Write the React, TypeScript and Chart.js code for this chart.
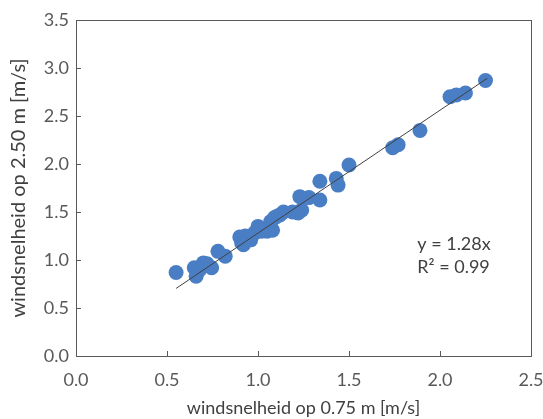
import React, { useEffect, useRef } from "react";
import { Chart, registerables } from "chart.js";

Chart.register(...registerables);

const xValues = [0.55, 0.65, 0.66, 0.68, 0.70, 0.72, 0.745, 0.78, 0.82, 0.90, 0.91, 0.92, 0.93, 0.96, 0.98, 1.00, 1.02, 1.05, 1.07, 1.08, 1.09, 1.10, 1.12, 1.14, 1.19, 1.22, 1.23, 1.24, 1.28, 1.34, 1.34, 1.43, 1.44, 1.50, 1.74, 1.77, 1.89, 2.055, 2.09, 2.14, 2.25];
const yValues = [0.87, 0.92, 0.83, 0.90, 0.97, 0.96, 0.92, 1.09, 1.04, 1.24, 1.18, 1.16, 1.25, 1.21, 1.28, 1.35, 1.30, 1.30, 1.40, 1.31, 1.44, 1.45, 1.47, 1.50, 1.50, 1.49, 1.66, 1.52, 1.65, 1.82, 1.625, 1.85, 1.78, 1.99, 2.17, 2.20, 2.35, 2.70, 2.72, 2.74, 2.87];
const trendX = [0.55, 2.26];
const trendY = [0.704, 2.893];
const xTicks = [0, 0.5, 1.0, 1.5, 2.0, 2.5];
const yTicks = [0, 0.5, 1.0, 1.5, 2.0, 2.5, 3.0, 3.5];
const equationLines = ["y = 1.28x", "R\u00B2 = 0.99"];
const xTitle = "windsnelheid op 0.75 m [m/s]";
const yTitle = "windsnelheid op 2.50 m [m/s]";

const FONT = "Lato, 'Noto Sans', sans-serif";

const framePlugin = {
  id: "framePlugin",
  beforeDatasetsDraw(chart: any) {
    const { ctx, chartArea } = chart;
    const xs = chart.scales.x;
    const ys = chart.scales.y;
    ctx.save();
    ctx.strokeStyle = "#595959";
    ctx.lineWidth = 1;
    ctx.strokeRect(Math.round(chartArea.left) + 0.5, Math.round(chartArea.top) + 0.5,
      Math.round(chartArea.right - chartArea.left), Math.round(chartArea.bottom - chartArea.top));
    ctx.beginPath();
    xTicks.forEach((v) => {
      const px = Math.round(xs.getPixelForValue(v)) + 0.5;
      ctx.moveTo(px, chartArea.bottom);
      ctx.lineTo(px, chartArea.bottom - 5);
    });
    yTicks.forEach((v) => {
      const py = Math.round(ys.getPixelForValue(v)) + 0.5;
      ctx.moveTo(chartArea.left, py);
      ctx.lineTo(chartArea.left + 5, py);
    });
    ctx.stroke();
    ctx.restore();
  },
  afterDatasetsDraw(chart: any) {
    const { ctx } = chart;
    const xs = chart.scales.x;
    const ys = chart.scales.y;
    ctx.save();
    ctx.fillStyle = "#404040";
    ctx.font = `18px ${FONT}`;
    ctx.textAlign = "left";
    ctx.textBaseline = "middle";
    const x0 = xs.getPixelForValue(1.875);
    const y0 = ys.getPixelForValue(1.16);
    equationLines.forEach((t, i) => ctx.fillText(t, x0, y0 + i * 23));
    ctx.restore();
  },
};

export default function App() {
  const ref = useRef<HTMLCanvasElement>(null);
  useEffect(() => {
    if (!ref.current) return;
    const chart = new Chart(ref.current, {
      type: "scatter",
      data: {
        datasets: [
          {
            type: "line",
            data: trendX.map((x, i) => ({ x, y: trendY[i] })),
            borderColor: "#404040",
            borderWidth: 1,
            pointRadius: 0,
            fill: false,
            order: 0,
          } as any,
          {
            data: xValues.map((x, i) => ({ x, y: yValues[i] })),
            backgroundColor: "#4A7EC4",
            borderColor: "#4A7EC4",
            borderWidth: 0,
            pointRadius: 7.5,
            order: 1,
          },
        ],
      },
      options: {
        animation: false,
        responsive: false,
        layout: { padding: { left: 0, top: 20, right: 0, bottom: 0 } },
        plugins: { legend: { display: false }, tooltip: { enabled: false } },
        scales: {
          x: {
            type: "linear",
            min: 0,
            max: 2.5,
            afterFit: (s: any) => { s.height = 63; s.paddingRight = 12; s.paddingLeft = 0; },
            afterBuildTicks: (s: any) => { s.ticks = xTicks.map((v) => ({ value: v })); },
            grid: { display: false, drawTicks: false },
            border: { display: false },
            ticks: { padding: 13, color: "#595959", font: { family: FONT, size: 18 }, callback: (v: any) => Number(v).toFixed(1) },
            title: { display: true, text: xTitle, color: "#404040", font: { family: FONT, size: 18 }, padding: { top: 0, bottom: 0 } },
          },
          y: {
            type: "linear",
            min: 0,
            max: 3.5,
            afterFit: (s: any) => { s.width = 76; },
            afterBuildTicks: (s: any) => { s.ticks = yTicks.map((v) => ({ value: v })); },
            grid: { display: false, drawTicks: false },
            border: { display: false },
            ticks: { padding: 7, color: "#595959", font: { family: FONT, size: 18 }, callback: (v: any) => Number(v).toFixed(1) },
            title: { display: true, text: yTitle, color: "#404040", font: { family: FONT, size: 20 }, padding: { top: 7, bottom: 0 } },
          },
        },
      },
      plugins: [framePlugin],
    });
    return () => chart.destroy();
  }, []);
  return (
    <div style={{ position: "absolute", left: 0, top: 0, width: 543, height: 419, background: "#fff" }}>
      <canvas ref={ref} width={543} height={419} />
    </div>
  );
}
